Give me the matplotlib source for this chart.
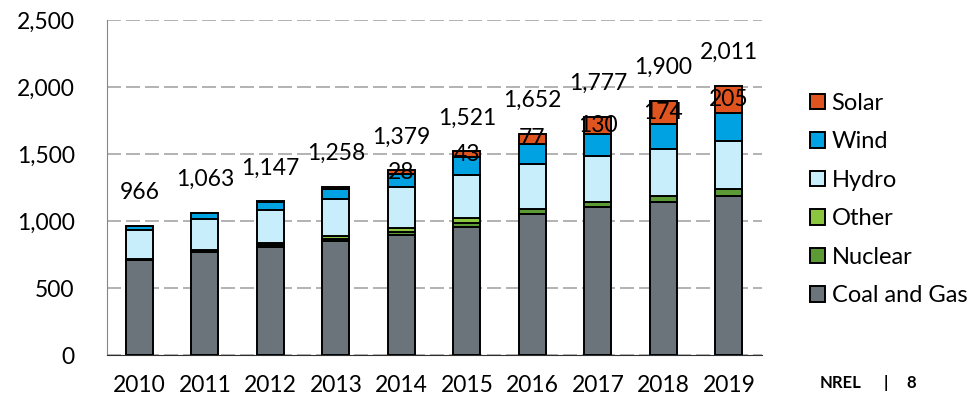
import numpy as np
import matplotlib.pyplot as plt

plt.rcParams['font.family'] = ['Lato', 'DejaVu Sans']

years = ['2010', '2011', '2012', '2013', '2014', '2015', '2016', '2017', '2018', '2019']
totals = [966, 1063, 1147, 1258, 1379, 1521, 1652, 1777, 1900, 2011]

coal_gas = [708, 769, 809, 850, 897, 959, 1054, 1104, 1141, 1189]
nuclear = [11, 13, 13, 15, 20, 27, 34, 36, 45, 49]
other = [0, 0, 12, 21, 36, 41, 6, 4, 3, 1]
hydro = [216, 233, 249, 280, 302, 320, 332, 343, 353, 356]
wind = [30, 46, 61, 76, 96, 131, 149, 160, 184, 211]
solar = [1, 2, 3, 16, 28, 43, 77, 130, 174, 205]
solar_shown = [False, False, False, False, True, True, True, True, True, True]

series = [
    ('Coal and Gas', coal_gas, '#6b737b'),
    ('Nuclear', nuclear, '#5b9a35'),
    ('Other', other, '#8cc63e'),
    ('Hydro', hydro, '#c8eefc'),
    ('Wind', wind, '#00a2e1'),
    ('Solar', solar, '#e05420'),
]

fig = plt.figure(figsize=(9.74, 4), dpi=100)
ax = fig.add_axes([0.1095, 0.1118, 0.6725, 0.838])

x = np.arange(len(years))
bottom = np.zeros(len(years))
handles = []
for name, vals, col in series:
    b = ax.bar(x, vals, 0.41, bottom=bottom, color=col, edgecolor='black',
               linewidth=1.4, label=name, zorder=3)
    handles.append(b)
    bottom = bottom + np.array(vals)

# solar labels in the middle of the solar segment
solar_base = bottom - np.array(solar)
for i in range(len(years)):
    if solar_shown[i]:
        ax.text(x[i], solar_base[i] + solar[i] / 2, str(solar[i]), ha='center',
                va='center', fontsize=16.5, zorder=4)

for i in range(len(years)):
    ax.annotate(f'{totals[i]:,}', (x[i], totals[i]), xytext=(0, 24),
                textcoords='offset points', ha='center', va='center', fontsize=16.5)

ax.set_xlim(-0.5, 9.5)
ax.set_ylim(0, 2500)
ax.set_yticks([0, 500, 1000, 1500, 2000, 2500])
ax.set_yticklabels([f'{v:,}' for v in [0, 500, 1000, 1500, 2000, 2500]])
ax.set_xticks(x)
ax.set_xticklabels(years)
ax.tick_params(axis='y', length=0, pad=23, labelsize=16.5)
ax.tick_params(axis='x', length=0, pad=14, labelsize=16.5)
ax.yaxis.grid(True, color='#a6a6a6', linewidth=1.2, linestyle=(0, (8.4, 3.0)), zorder=0)
ax.spines['top'].set_visible(False)
ax.spines['right'].set_visible(False)
ax.spines['left'].set_color('#868686')
ax.spines['bottom'].set_color('#303030')

fig.legend(handles[::-1], [s[0] for s in series][::-1], loc='upper left',
           bbox_to_anchor=(0.8316, 0.768), frameon=False, fontsize=17,
           handlelength=0.62, handleheight=0.62, handletextpad=0.3,
           labelspacing=0.74, borderpad=0, borderaxespad=0)

fig.text(0.842, 0.0425, 'NREL', fontsize=12, fontweight='bold', va='center')
fig.text(0.909, 0.0425, '|', fontsize=12, fontweight='bold', va='center', ha='center')
fig.text(0.936, 0.0425, '8', fontsize=12, fontweight='bold', va='center', ha='center')

fig.savefig('out.png', dpi=100)
